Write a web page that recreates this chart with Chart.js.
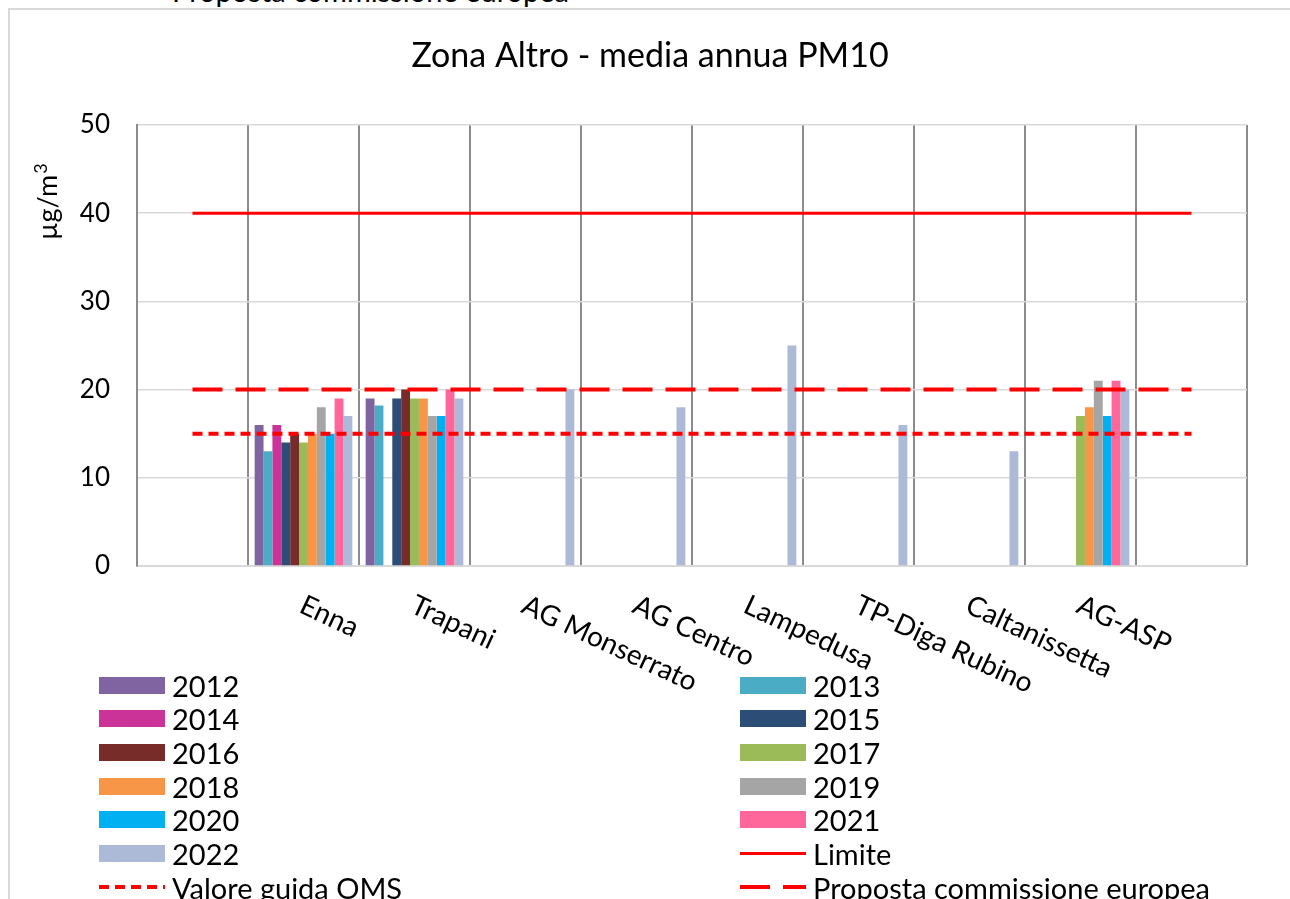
<!DOCTYPE html>
<html>
<head>
<meta charset="utf-8">
<title>Zona Altro - media annua PM10</title>
<script src="https://cdn.jsdelivr.net/npm/chart.js@4/dist/chart.umd.min.js"></script>
<style>
  body { margin: 0; background: #fff; font-family: Lato, sans-serif; color: #000; }
  #wrap { position: relative; width: 1290px; height: 899px; overflow: hidden; }
  #frame { position: absolute; left: 8px; top: 8px; width: 1300px; height: 900px; border-left: 2px solid #d9d9d9; border-top: 2px solid #d9d9d9; }
  #cut { position: absolute; left: 172px; top: -27px; font-size: 29px; white-space: nowrap; }
  canvas { position: absolute; left: 0; top: 0; }
  .item { position: absolute; height: 34px; display: flex; align-items: center; font-size: 29px; white-space: nowrap; }
  .sample { width: 66px; margin-right: 7px; }
</style>
</head>
<body>
<div id="wrap">
  <div id="cut">Proposta commissione europea</div>
  <div id="frame"></div>
  <canvas id="chart" width="1290" height="899"></canvas>
  <div id="legend"></div>
</div>
<script>
// Stations (first and last slots are empty, as in the original sheet)
const categories = ['', 'Enna', 'Trapani', 'AG Monserrato', 'AG Centro', 'Lampedusa', 'TP-Diga Rubino', 'Caltanissetta', 'AG-ASP', ''];

// Annual means per year (µg/m³), null = no data
const v2012 = [null, 16, 19, null, null, null, null, null, null, null];
const v2013 = [null, 13, 18.2, null, null, null, null, null, null, null];
const v2014 = [null, 16, null, null, null, null, null, null, null, null];
const v2015 = [null, 14, 19, null, null, null, null, null, null, null];
const v2016 = [null, 15, 20, null, null, null, null, null, null, null];
const v2017 = [null, 14, 19, null, null, null, null, null, 17, null];
const v2018 = [null, 15, 19, null, null, null, null, null, 18, null];
const v2019 = [null, 18, 17, null, null, null, null, null, 21, null];
const v2020 = [null, 15, 17, null, null, null, null, null, 17, null];
const v2021 = [null, 19, 20, null, null, null, null, null, 21, null];
const v2022 = [null, 17, 19, 20, 18, 25, 16, 13, 20, null];

// Reference thresholds
const limite = [40, 40, 40, 40, 40, 40, 40, 40, 40, 40];
const valoreOMS = [15, 15, 15, 15, 15, 15, 15, 15, 15, 15];
const propostaUE = [20, 20, 20, 20, 20, 20, 20, 20, 20, 20];

const yTicks = [0, 10, 20, 30, 40, 50];

const years = ['2012', '2013', '2014', '2015', '2016', '2017', '2018', '2019', '2020', '2021', '2022'];
const yearValues = [v2012, v2013, v2014, v2015, v2016, v2017, v2018, v2019, v2020, v2021, v2022];
const yearColors = ['#8064a2', '#4bacc6', '#cc3399', '#2c4d75', '#772c2a', '#9bbb59', '#f79646', '#a5a5a5', '#00b0f0', '#ff6699', '#acb9d7'];

let datasets = years.map((y, i) => ({
    type: 'bar',
    label: y,
    data: yearValues[i],
    backgroundColor: yearColors[i],
    categoryPercentage: 0.88,
    barPercentage: 1,
    order: 1
}));

datasets.push({ type: 'line', label: 'Limite', data: limite, borderColor: '#ff0000', borderWidth: 3, pointRadius: 0, order: 0 });
datasets.push({ type: 'line', label: 'Valore guida OMS', data: valoreOMS, borderColor: '#ff0000', borderWidth: 4, borderDash: [10, 6], pointRadius: 0, order: 0 });
datasets.push({ type: 'line', label: 'Proposta commissione europea', data: propostaUE, borderColor: '#ff0000', borderWidth: 4, borderDash: [30, 13], pointRadius: 0, order: 0 });

// title, rotated station names and y title drawn on the canvas
const extraText = {
    id: 'extraText',
    afterDraw(chart) {
        const ctx = chart.ctx;
        const sc = chart.scales.x;
        ctx.save();
        ctx.fillStyle = '#000';

        // chart title
        ctx.font = '34px Lato';
        ctx.textAlign = 'center';
        ctx.textBaseline = 'middle';
        ctx.fillText('Zona Altro - media annua PM10', 650, 56);

        // station names, slanted down to the right
        ctx.font = '28px Lato';
        chart.data.labels.forEach((lab, i) => {
            if (!lab) return;
            ctx.save();
            ctx.translate(sc.getPixelForTick(i) + 4, sc.top + 25);
            ctx.rotate(25 * Math.PI / 180);
            ctx.textAlign = 'left';
            ctx.textBaseline = 'top';
            ctx.fillText(lab, 0, 0);
            ctx.restore();
        });

        // unit, written bottom to top
        ctx.translate(57, 240);
        ctx.rotate(-Math.PI / 2);
        ctx.textAlign = 'left';
        ctx.textBaseline = 'alphabetic';
        ctx.font = '27px Lato';
        ctx.fillText('µg/m', 0, 0);
        const w = ctx.measureText('µg/m').width;
        ctx.font = '18px Lato';
        ctx.fillText('3', w + 1, -10);
        ctx.restore();
    }
};

const chart = new Chart(document.getElementById('chart'), {
    type: 'bar',
    data: { labels: categories, datasets: datasets },
    options: {
        responsive: false,
        animation: false,
        layout: { padding: { left: 0, right: 43, top: 125, bottom: 0 } },
        plugins: {
            legend: { display: false },
            tooltip: { enabled: false },
            title: { display: false }
        },
        scales: {
            x: {
                ticks: { display: false },
                grid: { offset: true, color: '#8c8c8c', lineWidth: 2, drawTicks: false },
                border: { color: '#d9d9d9', width: 2 },
                afterFit(scale) { scale.height = 333; }
            },
            y: {
                min: 0,
                max: 50,
                afterBuildTicks(scale) { scale.ticks = yTicks.map(v => ({ value: v })); },
                ticks: { color: '#000', padding: 27, font: { family: 'Lato', size: 26 } },
                grid: { color: '#d9d9d9', lineWidth: 1.5, drawTicks: false },
                border: { color: '#8c8c8c', width: 2 },
                afterFit(scale) { scale.width = 137; }
            }
        }
    },
    plugins: [extraText]
});

// two-column legend like the spreadsheet one
const legend = document.getElementById('legend');
chart.data.datasets.forEach((ds, i) => {
    const col = i % 2, row = Math.floor(i / 2);
    const item = document.createElement('div');
    item.className = 'item';
    item.style.left = (col ? 740 : 99) + 'px';
    item.style.top = (668 + row * 33.7) + 'px';
    const s = document.createElement('div');
    s.className = 'sample';
    if (ds.type === 'bar') {
        s.style.height = '17px';
        s.style.background = ds.backgroundColor;
    } else {
        s.style.height = ds.borderWidth + 'px';
        if (ds.borderDash) {
            const d = ds.borderDash;
            s.style.background = 'repeating-linear-gradient(to right, #ff0000 0 ' + d[0] + 'px, transparent ' + d[0] + 'px ' + (d[0] + d[1]) + 'px)';
        } else {
            s.style.background = ds.borderColor;
        }
    }
    item.appendChild(s);
    item.appendChild(document.createTextNode(ds.label));
    legend.appendChild(item);
});
</script>
</body>
</html>
